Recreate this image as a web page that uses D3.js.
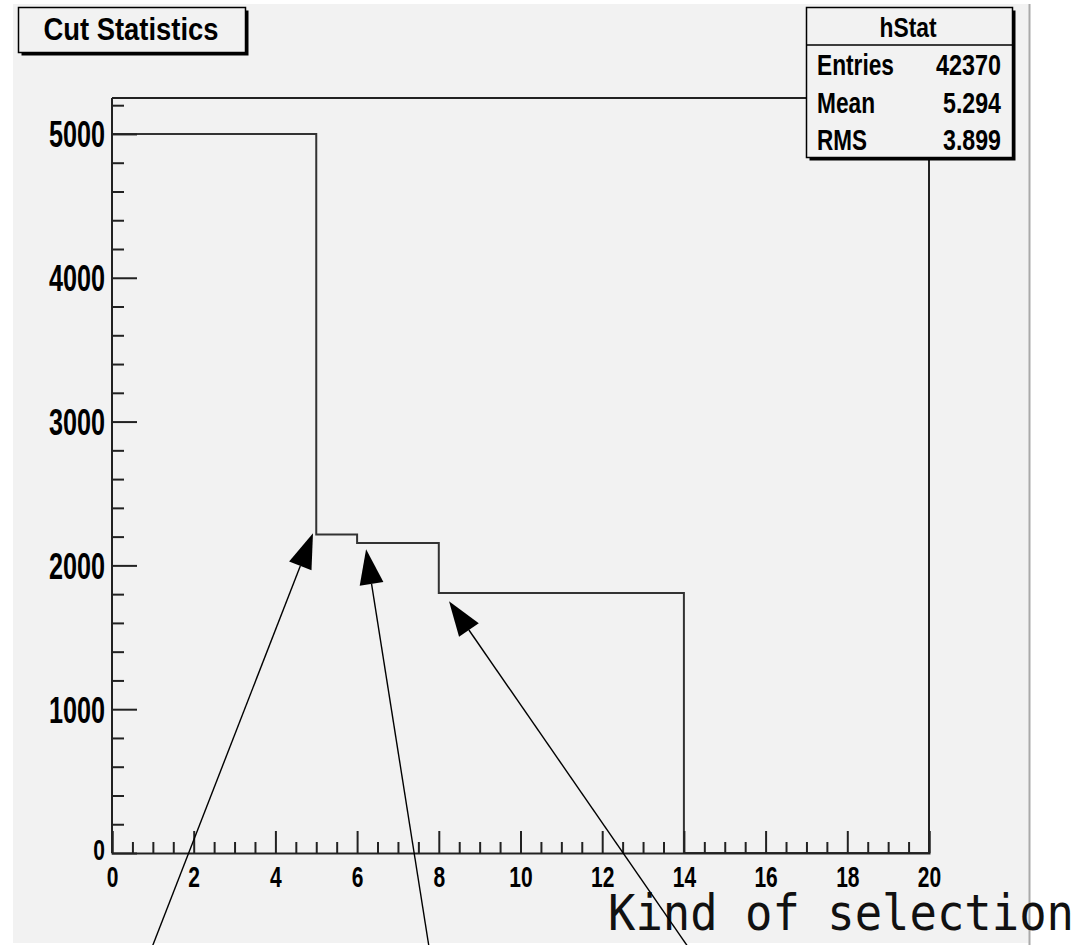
<!DOCTYPE html>
<html>
<head>
<meta charset="utf-8">
<script src="https://cdn.jsdelivr.net/npm/d3@7"></script>
<style>
  html, body { margin: 0; padding: 0; background: #ffffff; }
  svg { display: block; }
  .lbl { font-family: "Liberation Sans", Arial, Helvetica, sans-serif; font-weight: bold; fill: #000; }
</style>
</head>
<body>
<svg id="chart" width="1087" height="945"></svg>
<script>
// Histogram "hStat": one bin per selection step, 0..20
const binLow   = [0, 1, 2, 3, 4, 5, 6, 7, 8, 9, 10, 11, 12, 13, 14, 15, 16, 17, 18, 19];
const binCount = [5000, 5000, 5000, 5000, 5000, 2215, 2156, 2156, 1808, 1808, 1808, 1808, 1808, 1808, 0, 0, 0, 0, 0, 0];
const binWidth = 1;

const xMajorTicks = [0, 2, 4, 6, 8, 10, 12, 14, 16, 18, 20];
const xMinorTicks = [0.5, 1, 1.5, 2.5, 3, 3.5, 4.5, 5, 5.5, 6.5, 7, 7.5, 8.5, 9, 9.5, 10.5, 11, 11.5,
                     12.5, 13, 13.5, 14.5, 15, 15.5, 16.5, 17, 17.5, 18.5, 19, 19.5];
const yMajorTicks = [0, 1000, 2000, 3000, 4000, 5000];
const yMinorTicks = [200, 400, 600, 800, 1200, 1400, 1600, 1800, 2200, 2400, 2600, 2800,
                     3200, 3400, 3600, 3800, 4200, 4400, 4600, 4800, 5200];

const titleText = "Cut Statistics";
const statsName = "hStat";
const statsKeys = ["Entries", "Mean", "RMS"];
const statsVals = ["42370", "5.294", "3.899"];
const xTitle = "Kind of selection";

// Arrows pointing at the steps (data coordinates: tail -> tip)
const arrowTails = [[0.86, -743], [7.81, -743], [14.32, -743]];
const arrowTips  = [[4.92, 2223], [6.22, 2112], [8.25, 1751]];

const svg = d3.select("#chart");

// canvas background
svg.append("rect").attr("x", 13).attr("y", 4).attr("width", 1017).attr("height", 939).attr("fill", "#f2f2f2");
svg.append("line").attr("x1", 1029.5).attr("x2", 1029.5).attr("y1", 4).attr("y2", 945)
  .attr("stroke", "#aaaaaa").attr("stroke-width", 2);

const x = d3.scaleLinear().domain([0, 20]).range([112, 929]);
const y = d3.scaleLinear().domain([0, 5250]).range([853, 98]);

// squeeze text horizontally like a condensed face
function condense(sel, factor) {
  sel.each(function () {
    const len = this.getComputedTextLength();
    d3.select(this).attr("textLength", len * factor).attr("lengthAdjust", "spacingAndGlyphs");
  });
}
function fitWidth(sel, w) {
  sel.attr("textLength", w).attr("lengthAdjust", "spacingAndGlyphs");
}

// frame (top and right)
svg.append("path")
  .attr("d", `M${x(0)},${y(5250)}H${x(20)}V${y(0)}`)
  .attr("fill", "none").attr("stroke", "#222").attr("stroke-width", 2);

// histogram outline
let d = `M${x(binLow[0])},${y(0)}`;
binLow.forEach((lo, i) => {
  d += `L${x(lo)},${y(binCount[i])}L${x(lo + binWidth)},${y(binCount[i])}`;
});
d += `L${x(binLow[binLow.length - 1] + binWidth)},${y(0)}`;
svg.append("path").attr("d", d).attr("fill", "none").attr("stroke", "#333").attr("stroke-width", 2);

// x axis
const gxMinor = svg.append("g").attr("transform", `translate(0,${y(0)})`)
  .call(d3.axisBottom(x).tickValues(xMinorTicks).tickSize(-11).tickFormat(""));
const gx = svg.append("g").attr("transform", `translate(0,${y(0)})`)
  .call(d3.axisBottom(x).tickValues(xMajorTicks).tickSize(-22).tickPadding(13).tickFormat(d3.format("d")));

// y axis
const gyMinor = svg.append("g").attr("transform", `translate(${x(0)},0)`)
  .call(d3.axisLeft(y).tickValues(yMinorTicks).tickSize(-12).tickFormat(""));
const gy = svg.append("g").attr("transform", `translate(${x(0)},0)`)
  .call(d3.axisLeft(y).tickValues(yMajorTicks).tickSize(-25).tickPadding(7).tickFormat(d3.format("d")));

[gxMinor, gx, gyMinor, gy].forEach(g => {
  g.selectAll("path.domain").attr("stroke", "#222").attr("stroke-width", 2);
  g.selectAll(".tick line").attr("stroke", "#222").attr("stroke-width", 2);
});
gyMinor.select("path.domain").remove();
gxMinor.select("path.domain").remove();
gy.select("path.domain").attr("d", `M0,${y(5250)}V${y(0)}`);

gx.selectAll(".tick text")
  .attr("class", "lbl").attr("font-size", 30).attr("dy", "0.71em").attr("fill", "#000");
condense(gx.selectAll(".tick text"), 0.7);
gy.selectAll(".tick text")
  .attr("class", "lbl").attr("font-size", 36).attr("dy", "0.36em").attr("fill", "#000");
gy.selectAll(".tick text").filter(v => v === 0).attr("font-size", 30).attr("dy", "0.2em");
condense(gy.selectAll(".tick text"), 0.7);

// title box with shadow
svg.append("rect").attr("x", 21.5).attr("y", 10.5).attr("width", 227).attr("height", 45).attr("fill", "#000");
svg.append("rect").attr("x", 18.5).attr("y", 7.5).attr("width", 227).attr("height", 45)
  .attr("fill", "#f2f2f2").attr("stroke", "#000").attr("stroke-width", 1.5);
svg.append("text").attr("class", "lbl").attr("x", 131).attr("y", 40).attr("text-anchor", "middle")
  .attr("font-size", 31).text(titleText).call(fitWidth, 175);

// stats box with shadow
const sx = 806.5, sy = 7.5, sw = 206, sh = 150;
svg.append("rect").attr("x", sx + 3).attr("y", sy + 3).attr("width", sw).attr("height", sh).attr("fill", "#000");
svg.append("rect").attr("x", sx).attr("y", sy).attr("width", sw).attr("height", sh)
  .attr("fill", "#f2f2f2").attr("stroke", "#000").attr("stroke-width", 1.5);
svg.append("line").attr("x1", sx).attr("x2", sx + sw).attr("y1", 45).attr("y2", 45)
  .attr("stroke", "#000").attr("stroke-width", 1.5);
svg.append("text").attr("class", "lbl").attr("x", 908).attr("y", 37).attr("text-anchor", "middle")
  .attr("font-size", 27).text(statsName).call(fitWidth, 57);
const rowBase = [75, 113, 150];
const keyW = [77, 58, 50];
const valW = [65, 58, 58];
statsKeys.forEach((k, i) => {
  svg.append("text").attr("class", "lbl").attr("x", 817).attr("y", rowBase[i])
    .attr("font-size", 29).text(k).call(fitWidth, keyW[i]);
  svg.append("text").attr("class", "lbl").attr("x", 1001).attr("y", rowBase[i]).attr("text-anchor", "end")
    .attr("font-size", 29).text(statsVals[i]).call(fitWidth, valW[i]);
});

// x-axis title
svg.append("text").attr("x", 608).attr("y", 930)
  .attr("font-family", "'DejaVu Sans Mono', monospace").attr("font-size", 49).attr("fill", "#111")
  .text(xTitle).call(fitWidth, 466);

// arrows
const headLen = 35, headHalf = 12;
arrowTips.forEach((tip, i) => {
  const t = [x(tip[0]), y(tip[1])];
  const s = [x(arrowTails[i][0]), y(arrowTails[i][1])];
  const dx = t[0] - s[0], dy = t[1] - s[1];
  const L = Math.hypot(dx, dy);
  const ux = dx / L, uy = dy / L;
  const b = [t[0] - ux * headLen, t[1] - uy * headLen];
  svg.append("line").attr("x1", s[0]).attr("y1", s[1]).attr("x2", b[0]).attr("y2", b[1])
    .attr("stroke", "#000").attr("stroke-width", 1.4);
  svg.append("path")
    .attr("d", `M${t[0]},${t[1]}L${b[0] - uy * headHalf},${b[1] + ux * headHalf}L${b[0] + uy * headHalf},${b[1] - ux * headHalf}Z`)
    .attr("fill", "#000");
});
</script>
</body>
</html>
